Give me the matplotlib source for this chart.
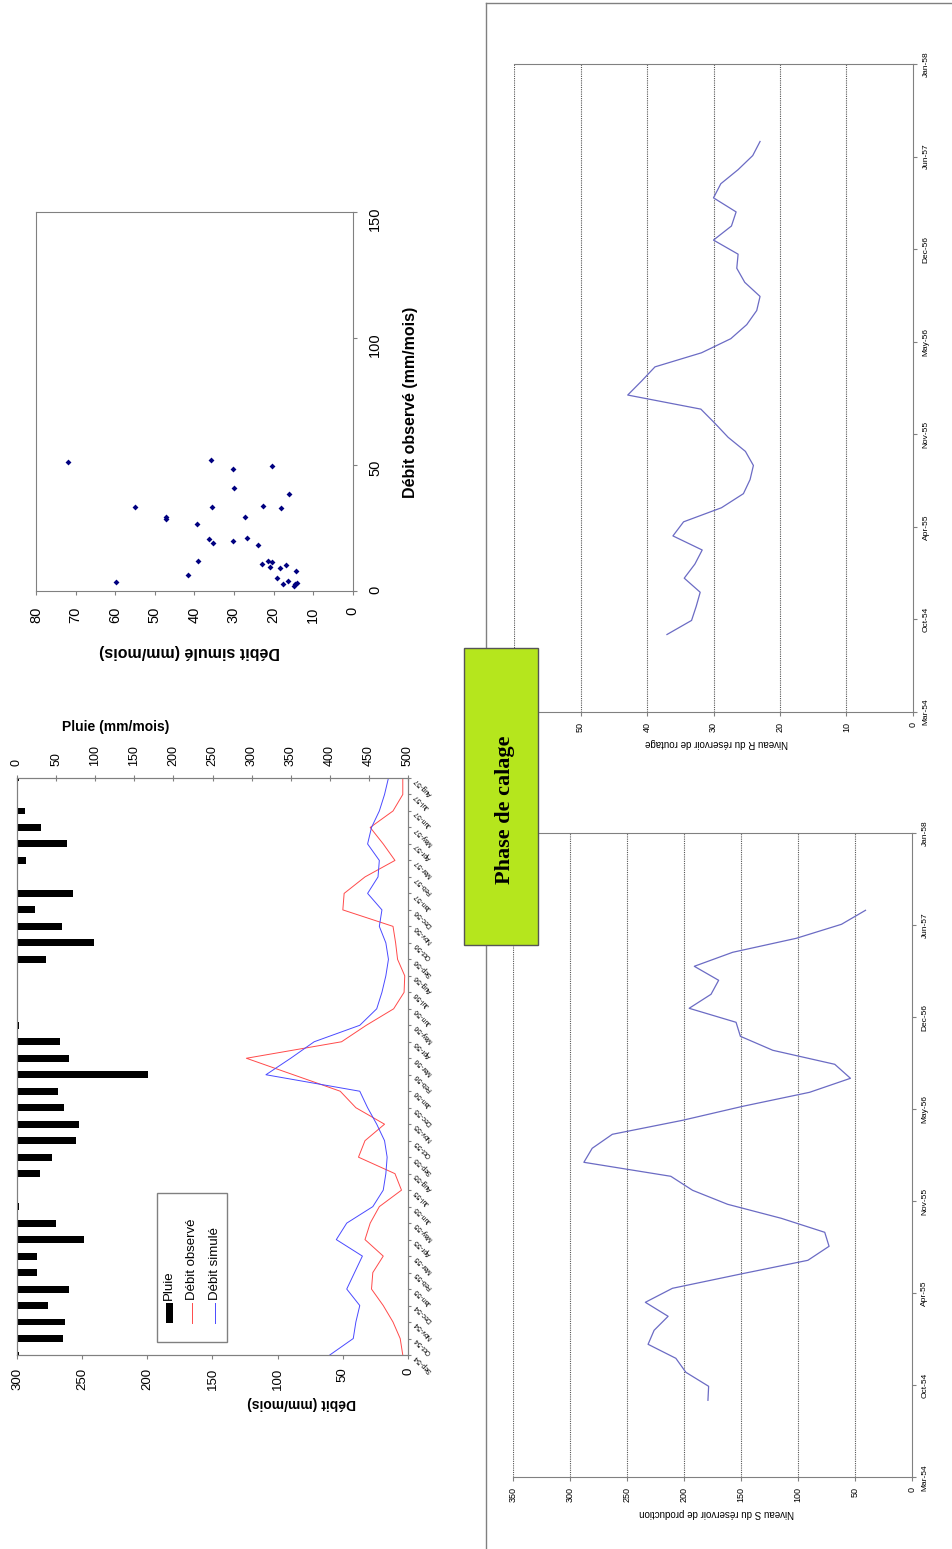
import numpy as np
import matplotlib
matplotlib.use("Agg")
import matplotlib.pyplot as plt
from matplotlib.patches import Rectangle
from matplotlib.lines import Line2D

plt.rcParams["font.family"] = ["Liberation Sans", "DejaVu Sans"]

# ------------------------------------------------------------
# Données
# ------------------------------------------------------------
mois = ["Sep-54", "Oct-54", "Nov-54", "Dec-54", "Jan-55", "Feb-55", "Mar-55", "Apr-55",
        "May-55", "Jun-55", "Jul-55", "Aug-55", "Sep-55", "Oct-55", "Nov-55", "Dec-55",
        "Jan-56", "Feb-56", "Mar-56", "Apr-56", "May-56", "Jun-56", "Jul-56", "Aug-56",
        "Sep-56", "Oct-56", "Nov-56", "Dec-56", "Jan-57", "Feb-57", "Mar-57", "Apr-57",
        "May-57", "Jun-57", "Jul-57", "Aug-57"]
pluie = [2, 59, 61, 40, 66, 26, 26, 86, 50, 2, 0.5, 29, 45, 75, 79, 60,
         53, 167, 67, 55, 3, 1, 0, 0, 37, 98, 57, 23, 72, 0, 12, 64,
         31, 10, 0, 3]
debit_obs = [4, 6, 11.5, 19, 28, 27, 19, 33, 29, 22, 5, 10, 38, 33, 18, 40,
             52, 88, 124, 51, 32, 11, 3, 2.5, 8, 9.5, 11.5, 50, 49, 33, 10, 19,
             29, 11.5, 4, 4]
debit_sim = [60, 42, 40, 37, 47, 41, 35, 55, 47, 27, 19, 17, 16, 18, 24, 31,
             37, 109, 90, 72, 37, 24, 20, 17, 15, 17, 22, 20, 31, 23, 22, 31,
             28, 22, 18, 15]

# nuage de points : débit simulé / débit observé
scat_sim = [71.8, 59.7, 54.9, 47.2, 47.2, 41.6, 39.4, 39.1, 36.3, 35.9, 35.5, 35.2,
            30.3, 30.0, 30.2, 27.1, 26.6, 24.0, 22.7, 22.9, 21.3, 21.0, 20.3, 20.3,
            19.0, 18.4, 18.1, 17.5, 16.8, 16.2, 16.3, 14.8, 14.5, 14.1, 14.2]
scat_obs = [51.0, 3.7, 33.4, 29.2, 28.4, 6.2, 26.5, 11.8, 20.6, 51.9, 33.1, 18.9,
            48.2, 40.7, 19.8, 29.4, 21.1, 18.1, 33.5, 10.6, 12.0, 9.4, 11.6, 49.6,
            5.0, 9.2, 33.0, 2.6, 10.4, 38.3, 4.0, 2.0, 2.6, 3.3, 7.8]

# réservoirs
dates_axe = ["Mar-54", "Oct-54", "Apr-55", "Nov-55", "May-56", "Dec-56", "Jun-57", "Jan-58"]
niveau_S = [179, 178.4, 198.4, 207.2, 231.6, 226.3, 214, 234, 210.2, 151.4, 91.2, 72.6,
            76.4, 114.6, 161.7, 192.5, 211.6, 288, 280.7, 263, 201.3, 148.4, 89.7, 53.8,
            67.6, 122, 150.5, 154.3, 195.5, 176.3, 169.6, 191, 157.3, 101.4, 61.7, 40.6]
niveau_R = [37.0, 33.3, 32.6, 32.0, 34.4, 32.8, 31.7, 36.1, 34.5, 28.8, 25.5, 24.5,
            24.0, 25.2, 27.8, 29.8, 31.9, 42.9, 40.8, 38.8, 31.8, 27.4, 25.0, 23.5,
            23.0, 25.3, 26.5, 26.3, 30.0, 27.3, 26.6, 30.0, 28.9, 26.3, 24.1, 23.0]

# ------------------------------------------------------------
# Mise en page (page tournée de 90°)
# ------------------------------------------------------------
W, H = 952, 1549
GRIS = "#808080"


def box(x0, y0, x1, y1):
    return [x0 / W, 1 - y1 / H, (x1 - x0) / W, (y1 - y0) / H]


def ftext(x, y, s, **kw):
    fig.text(x / W, 1 - y / H, s, **kw)


def fline(xs, ys, **kw):
    fig.add_artist(Line2D([x / W for x in xs], [1 - y / H for y in ys], **kw))


def frect(x0, y0, x1, y1, **kw):
    fig.add_artist(Rectangle((x0 / W, 1 - y1 / H), (x1 - x0) / W, (y1 - y0) / H, **kw))


fig = plt.figure(figsize=(W / 100, H / 100), dpi=100)

# --- Hydrogramme pluie / débits ---
idx = np.arange(len(mois))
ax = fig.add_axes(box(17, 778, 408, 1355))
ax.plot(debit_obs, idx, color="#FF4a4a", lw=0.7)
ax.plot(debit_sim, idx, color="#4a4aFF", lw=0.7)
ax.set_xlim(300, 0)
ax.set_xticks(range(0, 301, 50))
ax.tick_params(axis="x", labelrotation=90, labelsize=9.5, length=3, pad=6, color=GRIS)
ax.yaxis.tick_right()
ax.set_yticks(idx)
ax.set_yticklabels(mois, rotation=135, rotation_mode="anchor", ha="right", va="center", fontsize=5)
ax.tick_params(axis="y", length=2.5, pad=3, color=GRIS)
for sp in ax.spines.values():
    sp.set_color(GRIS)

ax2 = ax.twiny()
ax2.barh(idx, pluie, height=0.42, color="black")
ax2.set_xlim(0, 500)
ax2.set_xticks(range(0, 501, 50))
ax2.tick_params(axis="x", labelrotation=90, labelsize=9, length=4, direction="inout", pad=7, color=GRIS)
for sp in ax2.spines.values():
    sp.set_color(GRIS)
ax.set_ylim(0, 35)

ftext(116, 727, "Pluie (mm/mois)", fontsize=10, fontweight="bold", ha="center", va="center")
ftext(302, 1403, "Débit (mm/mois)", fontsize=10, fontweight="bold", ha="center", va="center", rotation=180)

# légende (tournée)
frect(157, 1193, 227, 1342, facecolor="white", edgecolor=GRIS, lw=1, zorder=5)
frect(165.5, 1303, 172.5, 1323, facecolor="black", edgecolor="none", zorder=6)
fline([191.7, 191.7], [1303, 1323], color="#FF4a4a", lw=0.7, zorder=6)
fline([215, 215], [1303, 1323], color="#4a4aFF", lw=0.7, zorder=6)
for xc, lab in [(169, "Pluie"), (192, "Débit observé"), (215.5, "Débit simulé")]:
    ftext(xc, 1300, lab, fontsize=9.5, rotation=90, ha="center", va="bottom", zorder=7)

# --- Nuage de points ---
axs = fig.add_axes(box(36, 212, 352.7, 591))
axs.scatter(scat_sim, scat_obs, marker="D", s=9, color="#000080", linewidths=0)
axs.set_xlim(80, 0)
axs.set_ylim(0, 150)
axs.set_xticks(range(0, 81, 10))
axs.set_yticks(range(0, 151, 50))
axs.yaxis.tick_right()
axs.tick_params(axis="x", labelrotation=90, labelsize=10.5, length=3, pad=8, color=GRIS)
axs.tick_params(axis="y", labelrotation=90, labelsize=10.5, length=3, pad=8, color=GRIS)
for sp in axs.spines.values():
    sp.set_color(GRIS)
ftext(410.5, 402, "Débit observé (mm/mois)", fontsize=11.5, fontweight="bold",
      rotation=90, ha="center", va="center")
ftext(190, 652, "Débit simulé (mm/mois)", fontsize=11.5, fontweight="bold",
      rotation=180, ha="center", va="center")

# --- Réservoirs R et S ---
t_mois = 5.5 + np.arange(len(niveau_S))
pos_dates = np.linspace(0, 46, len(dates_axe))


def panneau(rect, valeurs, vmax, pas, label, ylab):
    a = fig.add_axes(rect)
    for v in np.arange(pas, vmax + pas / 2, pas):
        a.axvline(v, color="#555555", ls=(0, (1, 1)), lw=0.8, zorder=1)
    a.plot(valeurs, t_mois, color="#6B6BC4", lw=0.9, zorder=3)
    a.set_xlim(vmax, 0)
    a.set_ylim(0, 46)
    a.set_xticks(np.arange(0, vmax + pas / 2, pas) if label else np.arange(0, vmax, pas))
    a.yaxis.tick_right()
    a.set_yticks(pos_dates)
    a.set_yticklabels(dates_axe, rotation=90, va="center")
    a.tick_params(axis="x", labelrotation=90, labelsize=6.5, length=3, pad=4, color=GRIS)
    a.tick_params(axis="y", labelsize=6, length=3, pad=4, color=GRIS)
    a.spines["left"].set_visible(False)
    for k in ["top", "right", "bottom"]:
        a.spines[k].set_color(GRIS)
    return a


panneau(box(514, 64, 913, 712), niveau_R, 60, 10, False, None)
ftext(716, 743.5, "Niveau R du réservoir de routage", fontsize=7, rotation=180, ha="center", va="center")
panneau(box(513.3, 833.3, 911.7, 1477.3), niveau_S, 350, 50, True, None)
ftext(716.7, 1513.5, "Niveau S du réservoir de production", fontsize=7, rotation=180, ha="center", va="center")

# cadre de la page
fline([486.5, 952], [3.3, 3.3], color=GRIS, lw=1)
fline([486.5, 486.5], [3.3, 1549], color=GRIS, lw=1)

# étiquette « Phase de calage »
frect(464.3, 648.3, 538.3, 945, facecolor="#B5E61D", edgecolor="#555555", lw=1, zorder=10)
ftext(505, 810, "Phase de calage", fontsize=16, fontweight="bold", family=["Liberation Serif", "DejaVu Serif"],
      rotation=90, ha="center", va="center", zorder=11)

fig.savefig("out.png", dpi=100)
